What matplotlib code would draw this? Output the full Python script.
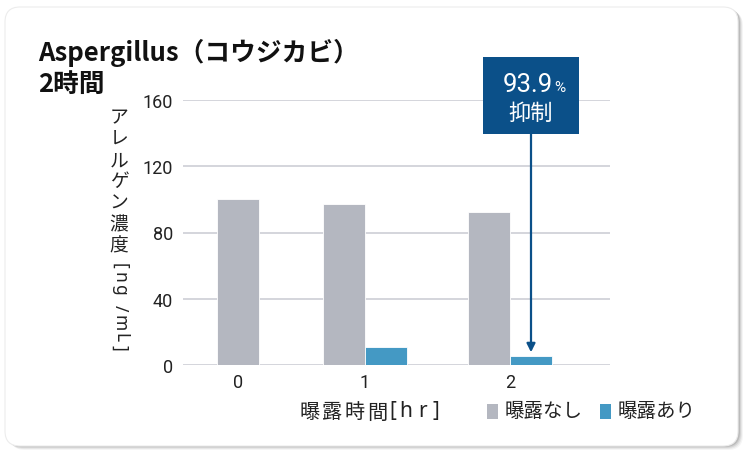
import matplotlib.pyplot as plt
from matplotlib.patches import FancyBboxPatch, Rectangle

plt.rcParams['font.family'] = ['Noto Sans CJK JP', 'DejaVu Sans']

# --- data ---
hours = ["0", "1", "2"]
no_exposure = [100, 97.5, 92.5]
exposure = [None, 11, 5.7]
ticks_y = [0, 40, 80, 120, 160]
reduction_label = "93.9"
series_names = ["曝露なし", "曝露あり"]

# group centres (the reference spaces the groups unevenly)
centres = [0.0, 1.0, 2.142]
w = 0.33

W, H = 751, 456
fig = plt.figure(figsize=(W / 100, H / 100), dpi=100)
fig.patch.set_facecolor("white")

def fx(px):
    return px / W

def fy(py):
    return 1 - py / H

def ftext(px, py, s, **kw):
    kw.setdefault("color", "#222222")
    kw.setdefault("zorder", 3)
    return fig.text(fx(px), fy(py), s, **kw)

# card with soft shadow
for i, a in enumerate([0.04, 0.06, 0.08, 0.11]):
    off = 4 - i
    fig.patches.append(FancyBboxPatch((fx(6 + off), fy(447 + off)), fx(733), 439 / H,
                                      boxstyle="round,pad=0,rounding_size=0.02",
                                      transform=fig.transFigure, fc="black", ec="none",
                                      alpha=a, zorder=0, mutation_aspect=W / H))
fig.patches.append(FancyBboxPatch((fx(5), fy(447)), fx(733), 439 / H,
                                  boxstyle="round,pad=0,rounding_size=0.02",
                                  transform=fig.transFigure, fc="white", ec="#ececec",
                                  lw=0.8, zorder=1, mutation_aspect=W / H))

ax = fig.add_axes([fx(183), fy(366), fx(610 - 183), (366 - 101) / H])
ax.set_facecolor("none")
ax.set_zorder(2)

gray = "#b4b7c0"
blue = "#4499c4"
navy = "#0b5089"

# group 0 only has the unexposed bar, centred on its tick
ax.bar(centres[0], no_exposure[0], w, color=gray, edgecolor="white", lw=0.6, zorder=3)
for c, v, e in zip(centres[1:], no_exposure[1:], exposure[1:]):
    ax.bar(c - w / 2, v, w, color=gray, edgecolor="white", lw=0.6, zorder=3)
    ax.bar(c + w / 2, e, w, color=blue, edgecolor="white", lw=0.6, zorder=3)

ax.set_xlim(-0.433, 2.929)
ax.set_ylim(0, 160)
ax.set_yticks(ticks_y)
ax.set_xticks(centres)
ax.set_xticklabels(hours)
for y in ticks_y:
    ax.axhline(y, color="#c9cad2", lw=1.1, zorder=1)
for s in ax.spines.values():
    s.set_visible(False)
ax.tick_params(axis="both", length=0, labelsize=13, colors="#222222")
ax.tick_params(axis="y", pad=7)
ax.tick_params(axis="x", pad=6)
for lab in ax.get_yticklabels() + ax.get_xticklabels():
    lab.set_family(["Roboto", "DejaVu Sans"])

# annotation box and arrow
bx0, bx1 = (483 - 238) / 127, (579 - 238) / 127
by0, by1 = 139.5, 186
ax.add_patch(Rectangle((bx0, by0), bx1 - bx0, by1 - by0, fc=navy, ec="none",
                       clip_on=False, zorder=5))
arrow_x = centres[2] + w / 2
ax.annotate("", xy=(arrow_x, exposure[2] + 2), xytext=(arrow_x, by0),
            arrowprops=dict(arrowstyle="-|>,head_width=0.25,head_length=0.5",
                            color=navy, lw=1.6, shrinkA=0, shrinkB=0), zorder=5)
ftext(553, 92, reduction_label, color="white", fontsize=18.5, ha="right", va="baseline",
      family=["Roboto", "DejaVu Sans"], zorder=6)
ftext(554, 92, "%", color="white", fontsize=11, ha="left", va="baseline",
      family=["Roboto", "DejaVu Sans"], zorder=6)
ftext(531, 113, "抑制", color="white", fontsize=16, ha="center", va="center", zorder=6)

# title
ftext(38, 53, "Aspergillus（コウジカビ）", fontsize=18.5, fontweight="bold",
      ha="left", va="center", color="#111111")
ftext(38, 84, "2時間", fontsize=18.5, fontweight="bold",
      ha="left", va="center", color="#111111")

# vertical y label: kana upright, units turned
for i, ch in enumerate("アレルゲン濃度"):
    ftext(119, 118 + i * 21.3, ch, fontsize=13.5, ha="center", va="center")
for ch, py in zip("[ng/mL]", [266, 277, 290, 308, 323, 338, 348]):
    ftext(120, py, ch, fontsize=12.5, ha="center", va="center", rotation=-90,
          family=["Noto Sans", "DejaVu Sans"])

# x label, letter-spaced
for ch, px in zip("曝露時間", [310, 332, 355, 377]):
    ftext(px, 413, ch, fontsize=14.5, ha="center", va="center")
for ch, px in zip("[hr]", [393, 406, 423, 436]):
    ftext(px, 412, ch, fontsize=15, ha="center", va="center",
          family=["Noto Sans", "DejaVu Sans"])

# legend
for col, name, px in zip([gray, blue], series_names, [487, 600]):
    fig.patches.append(Rectangle((fx(px), fy(420)), fx(11), 15 / H, fc=col, ec="none",
                                 transform=fig.transFigure, zorder=3))
    ftext(px + 18, 412, name, fontsize=14, ha="left", va="center")

fig.savefig("out.png", dpi=100)
